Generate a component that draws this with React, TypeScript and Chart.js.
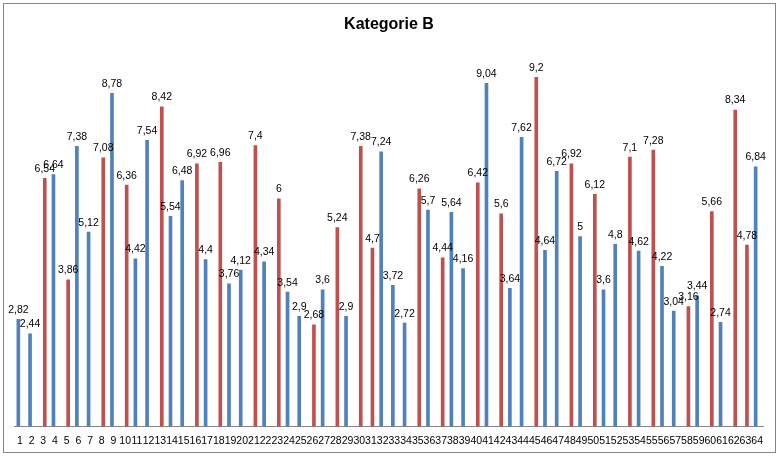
import React, { useEffect, useRef } from "react";
import { Chart, registerables } from "chart.js";

Chart.register(...registerables);

const categories: string[] = [
  "1", "2", "3", "4", "5", "6", "7", "8", "9", "10",
  "11", "12", "13", "14", "15", "16", "17", "18", "19", "20",
  "21", "22", "23", "24", "25", "26", "27", "28", "29", "30",
  "31", "32", "33", "34", "35", "36", "37", "38", "39", "40",
  "41", "42", "43", "44", "45", "46", "47", "48", "49", "50",
  "51", "52", "53", "54", "55", "56", "57", "58", "59", "60",
  "61", "62", "63", "64",
];

const n = null;

const blueValues: (number | null)[] = [
  2.82, 2.44, n, 6.64, n, 7.38, 5.12, n, 8.78, n,
  4.42, 7.54, n, 5.54, 6.48, n, 4.4, n, 3.76, 4.12,
  n, 4.34, n, 3.54, 2.9, n, 3.6, n, 2.9, n,
  n, 7.24, 3.72, 2.72, n, 5.7, n, 5.64, 4.16, n,
  9.04, n, 3.64, 7.62, n, 4.64, 6.72, n, 5, n,
  3.6, 4.8, n, 4.62, n, 4.22, 3.04, n, 3.44, n,
  2.74, n, n, 6.84,
];

const redValues: (number | null)[] = [
  n, n, 6.54, n, 3.86, n, n, 7.08, n, 6.36,
  n, n, 8.42, n, n, 6.92, n, 6.96, n, n,
  7.4, n, 6, n, n, 2.68, n, 5.24, n, 7.38,
  4.7, n, n, n, 6.26, n, 4.44, n, n, 6.42,
  n, 5.6, n, n, 9.2, n, n, 6.92, n, 6.12,
  n, n, 7.1, n, 7.28, n, n, 3.16, n, 5.66,
  n, 8.34, 4.78, n,
];

const TITLE = "Kategorie B";
const FONT = "'Liberation Sans', Arial, sans-serif";

const framePlugin = {
  id: "frame",
  beforeDraw(chart: any) {
    const ctx = chart.ctx;
    ctx.save();
    ctx.fillStyle = "#ffffff";
    ctx.fillRect(0, 0, chart.width, chart.height);
    ctx.strokeStyle = "#868686";
    ctx.lineWidth = 1;
    ctx.strokeRect(3.5, 3.5, 772, 449);
    ctx.fillStyle = "#000000";
    ctx.font = `bold 16px ${FONT}`;
    ctx.textAlign = "center";
    ctx.textBaseline = "alphabetic";
    ctx.fillText(TITLE, 389, 29);
    ctx.restore();
  },
};

const labelPlugin = {
  id: "valueLabels",
  afterDatasetsDraw(chart: any) {
    const ctx = chart.ctx;
    ctx.save();
    ctx.fillStyle = "#000000";
    ctx.font = `10.5px ${FONT}`;
    ctx.textAlign = "center";
    ctx.textBaseline = "alphabetic";
    chart.data.datasets.forEach((ds: any, di: number) => {
      const meta = chart.getDatasetMeta(di);
      meta.data.forEach((el: any, i: number) => {
        const v = ds.data[i];
        if (v === null || v === undefined) return;
        ctx.fillText(String(v).replace(".", ","), el.x, el.y - 6.5);
      });
    });
    ctx.restore();
  },
};

export default function App() {
  const ref = useRef<HTMLCanvasElement | null>(null);

  useEffect(() => {
    if (!ref.current) return;
    const chart = new Chart(ref.current, {
      type: "bar",
      data: {
        labels: categories,
        datasets: [
          {
            label: "Blau",
            data: blueValues,
            backgroundColor: "#4F81BD",
            barThickness: 3,
          },
          {
            label: "Rot",
            data: redValues,
            backgroundColor: "#C0504D",
            barThickness: 3,
          },
        ],
      },
      options: {
        responsive: false,
        animation: false,
        layout: { padding: { left: 14, right: 18, top: 47, bottom: 2 } },
        plugins: {
          legend: { display: false },
          tooltip: { enabled: false },
          title: { display: false },
        },
        scales: {
          x: {
            grid: { display: false, drawTicks: false },
            border: { display: true, color: "#868686", width: 1 },
            ticks: {
              autoSkip: false,
              maxRotation: 0,
              minRotation: 0,
              padding: 8,
              color: "#000000",
              font: { family: FONT, size: 10.5 },
            },
          },
          y: {
            display: false,
            min: 0,
            max: 10,
          },
        },
      },
      plugins: [framePlugin, labelPlugin],
    });
    return () => chart.destroy();
  }, []);

  return (
    <div style={{ position: "absolute", left: 0, top: 0, width: 781, height: 457 }}>
      <canvas ref={ref} width={781} height={457} style={{ width: 781, height: 457 }} />
    </div>
  );
}
